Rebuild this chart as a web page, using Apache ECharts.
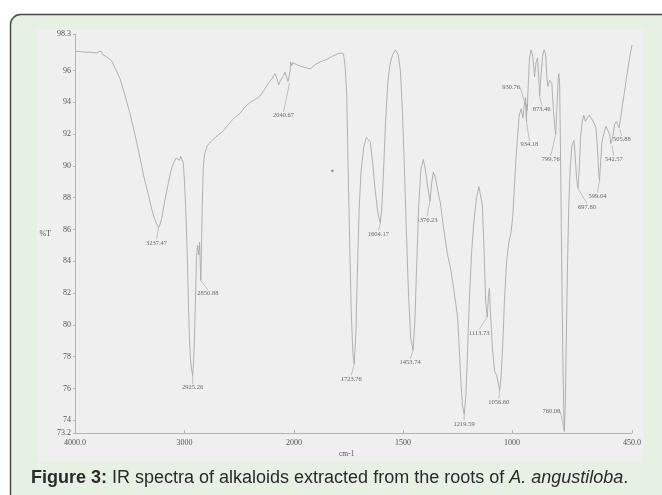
<!DOCTYPE html>
<html><head><meta charset="utf-8">
<script src="https://cdn.jsdelivr.net/npm/echarts@6/dist/echarts.min.js"></script>
<style>html,body{margin:0;padding:0;background:#fff;overflow:hidden}#c{width:662px;height:495px}</style>
</head><body><div id="c"></div>
<script>
// ---- data (wavenumber in cm-1, transmittance in %T) ----
const wavenumber = [
4000,3950,3900,3850,3800,3780,3770,3760,3745,3720,3700,3665,3630,3589,3550,3498,3450,3406,3370,3330,3300,3269,3248,3237.47,3225,3208,3180,3148,3120,3100,3087,3075,3060,3045,3035,3025,3011,3000,2990,2980,2972,2964,2955,2945,2935,2925.26,2918,2910,2900,2890,2880,2870,2862,2855,2850.88,2846,2838,2828,2815,2790,2750,2700,2646,2600,2550,2493,2450,2400,2350,2311,2270,2235,2200,2174,2160,2140,2128,2110,2095,2082,2068,2055,2040.67,2035,2030,2020,2010,2000,
1975,1950,1926,1900,1870,1850,1824,1800,1785,1773,1765,1758,1752,1745,1738,1730,1723.76,1716,1710,1702,1693,1680,1668,1660,1650,1640,1628,1615,1604.17,1597,1590,1580,1570,1560,1548,1535,1522,1512,1503,1494,1485,1475,1465,1453.74,1445,1437,1428,1418,1407,1398,1390,1382,1376.23,1368,1361,1352,1340,1328,1315,1297,1280,1268,1258,1250,1242,1235,1228,1219.59,1212,1205,1196,1186,1175,1163,1152,1144,1136,1128,1121,1113.73,1108,1104,1098,1090,1080,1070,1060,1056.6,1050,1042,1035,1025,1015,1005,997,990,982,975,967,958,950,944,938,934.18,932,930.76,926,920,913,905,897,890,883,878,873.46,868,860,853,846,840,836,828,818,810,803,799.76,795,790,786,782,778,774,770,766,762,760.08,756,752,746,740,733,725,716,710,704,697.8,692,686,678,671,664,656,646,638,628,615,608,603,599.04,594,588,580,570,562,553,547,542.57,537,530,522,514,509,505.88,500,492,485,476,468,462,456,450
];
const transmittance = [
97.2,97.2,97.15,97.15,97.1,97.2,97.3,97.2,97.0,96.9,96.8,96.6,96.1,95.5,94.6,93.3,91.9,90.5,89.3,88.2,87.3,86.6,86.25,86.1,86.3,86.7,87.8,88.9,89.8,90.2,90.3,90.5,90.6,90.35,90.6,90.5,90.2,89.0,87.5,85.5,83.6,81.3,79.2,77.8,77.2,76.8,77.5,79.0,81.5,84.3,85.0,84.4,85.2,83.5,82.8,84.5,87.5,90.0,90.8,91.3,91.6,91.9,92.2,92.6,93.0,93.3,93.7,94.0,94.2,94.4,94.8,95.2,95.5,95.8,95.6,95.1,95.3,95.4,95.7,95.9,95.6,95.3,95.2,96.0,96.55,96.3,96.5,96.45,
96.3,96.2,96.1,96.4,96.6,96.7,96.9,97.05,97.1,97.05,96.2,94.4,90.0,85.5,81.0,78.2,77.55,79.5,83.0,87.0,89.6,91.2,91.8,91.9,91.5,90.3,88.5,87.0,86.4,87.5,89.5,92.8,95.2,96.4,97.0,97.3,97.0,96.0,93.5,90.0,86.0,82.0,79.2,78.4,80.5,84.0,87.5,89.8,90.4,89.8,89.0,88.3,87.8,89.0,89.6,89.3,88.4,87.6,86.2,84.5,83.4,82.3,81.3,80.5,78.5,76.5,75.0,74.4,75.5,78.0,81.5,84.5,86.5,88.0,88.7,88.8,87.5,84.5,81.5,80.5,81.8,82.3,80.5,78.5,77.1,76.8,76.1,75.9,76.8,79.0,81.5,84.0,85.2,85.8,86.8,88.5,90.5,91.8,93.2,93.6,93.0,93.8,94.3,92.8,93.9,93.5,95.0,96.8,97.3,96.9,95.6,96.5,96.8,95.6,94.4,95.6,96.9,97.3,97.0,95.5,95.0,95.4,95.2,93.5,92.3,92.0,93.5,95.0,95.8,95.2,91.0,86.0,81.0,77.0,74.0,73.3,75.0,78.5,83.5,87.5,90.0,91.3,91.6,90.5,89.2,88.6,89.8,91.8,92.8,93.2,92.8,93.0,93.2,93.1,92.8,92.4,91.0,89.6,89.1,90.2,91.5,92.0,92.5,92.4,92.0,91.4,91.3,91.9,92.6,92.8,92.7,92.4,92.3,93.2,94.0,94.6,95.5,96.2,96.7,97.2,97.6
];
const peakLabels = ['3237.47','2925.26','2850.88','2040.67','1723.76','1604.17','1453.74','1376.23','1219.59','1113.73','1056.60','930.76','934.18','873.46','799.76','760.08','697.80','599.04','542.57','505.88'];
const peakWavenumber = [3237.47,2925.26,2850.88,2040.67,1723.76,1604.17,1453.74,1376.23,1219.59,1113.73,1056.6,930.76,934.18,873.46,799.76,760.08,697.8,599.04,542.57,505.88];
const peakTransmittance = [86.1,76.8,82.8,95.2,77.55,86.4,78.4,87.8,74.4,80.5,75.9,93.5,92.8,94.4,92.0,73.3,88.6,89.1,91.3,92.3];
const strayDot = [[1824, 89.7]];
const xTicksHigh = [4000, 3000];
const xTicksLow = [2000, 1500, 1000, 450];
const xTickText = {4000: '4000.0', 3000: '3000', 2000: '2000', 1500: '1500', 1000: '1000', 450: '450.0'};
const yTicks = [73.2, 74, 76, 78, 80, 82, 84, 86, 88, 90, 92, 94, 96, 98.3];

// ---- styling: label offsets (dx, dy in px) from each peak to its label centre ----
const labelOffset = [[-2,15],[0,12],[7,13],[-6,32],[-3,15],[-2,11],[-3,12],[-3,19],[0,10],[-8,16],[-1,12],[-16,-23],[3,23],[2,13],[-5,25],[-13,-20],[9,19],[-2,16],[2,14],[2,10]];

const pairs = wavenumber.map((w, i) => [w, transmittance[i]]);
const highPairs = pairs.filter(p => p[0] >= 2000);
const lowPairs = pairs.filter(p => p[0] <= 2000);
const peaks = peakWavenumber.map((w, i) => ({value: [w, peakTransmittance[i]], name: peakLabels[i], off: labelOffset[i]}));
const highPeaks = peaks.filter(p => p.value[0] >= 2000);
const lowPeaks = peaks.filter(p => p.value[0] < 2000);

const serif = '"Liberation Serif", "DejaVu Serif", serif';
const sans = '"Liberation Sans", Arial, sans-serif';
const axisColor = '#b4b4b4';
const lineColor = '#a9a9a9';

function xAxisCommon(grid, ticks) {
  return {
    gridIndex: grid, type: 'value', inverse: true,
    axisLine: {show: true, lineStyle: {color: axisColor, width: 1}},
    axisTick: {show: true, inside: true, length: 3, customValues: ticks, lineStyle: {color: axisColor}},
    axisLabel: {fontSize: 8, fontFamily: serif, color: '#555', margin: 6, customValues: ticks,
      formatter: v => xTickText[v] !== undefined ? xTickText[v] : ''},
    splitLine: {show: false}
  };
}

function peakSeries(axisIdx, data) {
  return {
    type: 'scatter', xAxisIndex: axisIdx, yAxisIndex: axisIdx, data: data,
    symbolSize: 0.1, silent: true, animation: false,
    label: {show: true, position: 'inside', formatter: p => p.name,
      fontSize: 6.5, fontFamily: serif, color: '#444'},
    labelLayout: p => {
      const d = data[p.dataIndex];
      return {dx: d.off[0], dy: d.off[1]};
    },
    labelLine: {show: true, lineStyle: {color: '#a0a0a0', width: 0.6}}
  };
}

const chart = echarts.init(document.getElementById('c'), null, {renderer: 'canvas'});
chart.setOption({
  animation: false,
  backgroundColor: '#ffffff',
  graphic: [
    {type: 'rect', z: -20, silent: true, shape: {x: 10.5, y: 14.5, width: 700, height: 520, r: [10, 0, 0, 0]},
      style: {fill: '#e6f1e3', stroke: '#4a4a4a', lineWidth: 1.5}},
    {type: 'rect', z: -19, silent: true, shape: {x: 37, y: 29, width: 606, height: 433},
      style: {fill: '#efefef'}},
    {type: 'text', z: 5, silent: true, left: 339, top: 450,
      style: {text: 'cm-1', fontSize: 7.5, fontFamily: serif, fill: '#555'}},
    {type: 'text', z: 5, silent: true, left: 31, top: 469,
      style: {text: '{b|Figure 3:} IR spectra of alkaloids extracted from the roots of {i|A. angustiloba}.',
        fontSize: 18, fontFamily: sans, fill: '#2a2a2a',
        rich: {b: {fontWeight: 'bold', fontSize: 18, fontFamily: sans, fill: '#2a2a2a'},
               i: {fontStyle: 'italic', fontSize: 18, fontFamily: sans, fill: '#2a2a2a'}}}}
  ],
  grid: [
    {left: 75, top: 34, width: 219, height: 399},
    {left: 294, top: 34, width: 338, height: 399}
  ],
  xAxis: [
    Object.assign(xAxisCommon(0, xTicksHigh), {min: 2000, max: 4000, interval: 1000}),
    Object.assign(xAxisCommon(1, xTicksLow), {min: 450, max: 2000})
  ],
  yAxis: [
    {gridIndex: 0, type: 'value', min: 73.2, max: 98.3,
      axisLine: {show: true, lineStyle: {color: axisColor, width: 1}},
      axisTick: {show: true, length: 2, customValues: yTicks, lineStyle: {color: axisColor}},
      axisLabel: {customValues: yTicks, fontSize: 8, fontFamily: serif, color: '#555', margin: 4,
        formatter: v => String(v)},
      splitLine: {show: false},
      name: '%T', nameLocation: 'middle', nameGap: 24, nameRotate: 0,
      nameTextStyle: {fontSize: 8, fontFamily: serif, color: '#555'}},
    {gridIndex: 1, type: 'value', min: 73.2, max: 98.3, show: false, splitLine: {show: false}}
  ],
  series: [
    {type: 'line', xAxisIndex: 0, yAxisIndex: 0, data: highPairs, showSymbol: false, silent: true,
      lineStyle: {color: lineColor, width: 0.9}},
    {type: 'line', xAxisIndex: 1, yAxisIndex: 1, data: lowPairs, showSymbol: false, silent: true,
      lineStyle: {color: lineColor, width: 0.9}},
    peakSeries(0, highPeaks),
    peakSeries(1, lowPeaks),
    {type: 'scatter', xAxisIndex: 1, yAxisIndex: 1, data: strayDot, symbolSize: 2.5, silent: true,
      itemStyle: {color: '#777'}}
  ]
});
</script>
</body></html>
